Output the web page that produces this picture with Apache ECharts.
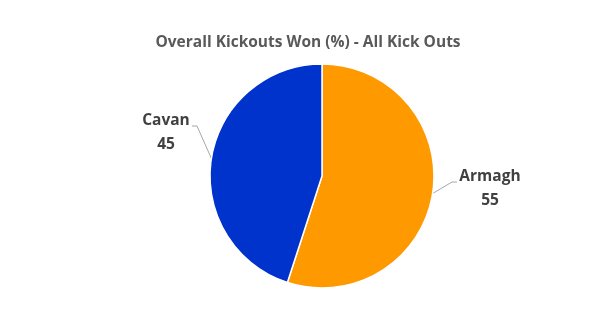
<!DOCTYPE html>
<html><head><meta charset="utf-8">
<script src="https://cdn.jsdelivr.net/npm/echarts@6/dist/echarts.min.js"></script>
<style>html,body{margin:0;padding:0;background:#fff}#c{width:616px;height:318px}</style>
</head><body><div id="c"></div>
<script>
const categories = ['Armagh', 'Cavan'];
const values = [55, 45];
const colors = ['#FF9900', '#0033CC'];
const titleText = 'Overall Kickouts Won (%) - All Kick Outs';

const chart = echarts.init(document.getElementById('c'), null, {renderer: 'canvas'});
const labelSpots = [
  {x: 490, y: 189, bend: [452, 182], end: [457, 182]},
  {x: 166, y: 133, bend: [197, 126], end: [192, 126]}
];
chart.setOption({
  animation: false,
  title: {
    text: titleText, left: 'center', top: 30,
    textStyle: {fontFamily: 'Open Sans', fontSize: 15.5, fontWeight: 'bold', color: '#595959'}
  },
  series: [{
    type: 'pie',
    center: [322, 176],
    radius: 112,
    startAngle: 90,
    clockwise: true,
    itemStyle: {borderColor: '#fff', borderWidth: 1.5},
    label: {
      show: true, position: 'outside',
      formatter: p => p.name + '\n' + p.value,
      fontFamily: 'Open Sans', fontSize: 15.5, fontWeight: 'bold', color: '#404040',
      lineHeight: 24, align: 'center'
    },
    labelLine: {show: true, length: 10, length2: 5, lineStyle: {color: '#A6A6A6', width: 1}},
    labelLayout: function (p) {
      const s = labelSpots[p.dataIndex];
      const start = p.labelLinePoints ? p.labelLinePoints[0] : s.bend;
      return {
        x: s.x, y: s.y, align: 'center', verticalAlign: 'middle',
        labelLinePoints: [start, s.bend, s.end]
      };
    },
    data: categories.map((c, i) => ({name: c, value: values[i], itemStyle: {color: colors[i]}}))
  }]
});
</script></body></html>
